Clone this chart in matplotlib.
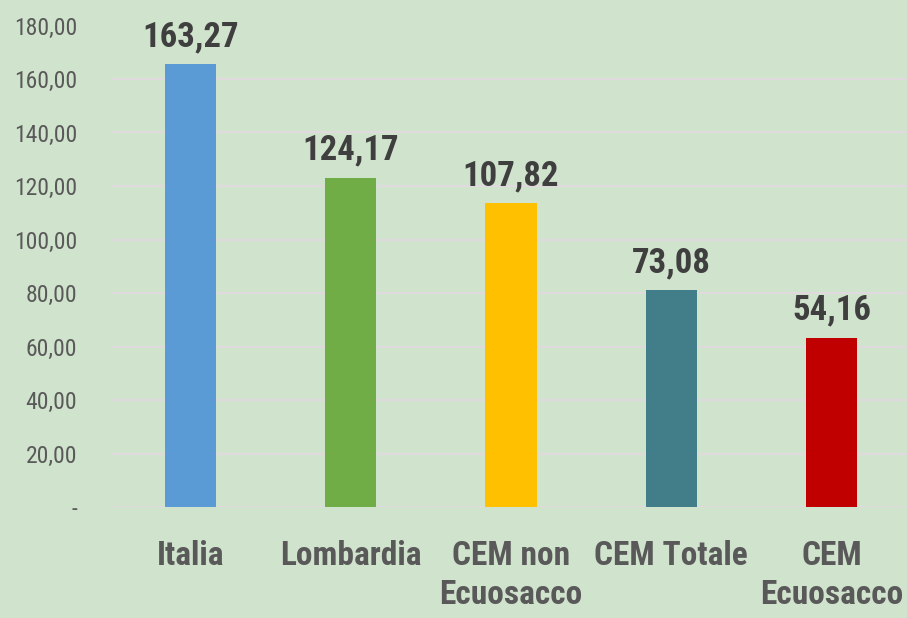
import matplotlib
matplotlib.use("Agg")
import matplotlib.pyplot as plt
from matplotlib import font_manager

names = sorted(set(f.name for f in font_manager.fontManager.ttflist))

categories = ["Italia", "Lombardia", "CEM non\nEcuosacco", "CEM Totale", "CEM\nEcuosacco"]
bar_heights = [165.6, 123.0, 113.6, 81.1, 63.2]
value_labels = ["163,27", "124,17", "107,82", "73,08", "54,16"]
colors = ["#5B9BD5", "#70AD47", "#FFC000", "#417E89", "#C00000"]
yticks = [0, 20, 40, 60, 80, 100, 120, 140, 160, 180]
ytick_labels = ["-", "20,00", "40,00", "60,00", "80,00", "100,00", "120,00", "140,00", "160,00", "180,00"]

narrow = None
for n in ["Roboto Condensed", "Liberation Sans Narrow", "Open Sans Condensed", "DejaVu Sans Condensed"]:
    if n in names:
        narrow = n
        break
fam = [narrow or "Liberation Sans", "DejaVu Sans"]

bg = "#D0E3CC"
fig = plt.figure(figsize=(9.07, 6.18), dpi=100, facecolor=bg)
ax = fig.add_axes([110.5 / 907, 111 / 618, 801 / 907, 481.5 / 618])
ax.set_facecolor(bg)

x = range(len(categories))
ax.bar(x, bar_heights, width=0.32, color=colors, zorder=3)
ax.set_xlim(-0.5, 4.5)
ax.set_ylim(0, 180)

ax.set_yticks(yticks)
ax.set_yticklabels(ytick_labels, family=fam, fontsize=17, color="#595959")
ax.yaxis.grid(True, color="#E2D9DF", linewidth=1.3, zorder=0)
ax.tick_params(axis="y", length=0, pad=24)
ax.set_xticks([])
for s in ax.spines.values():
    s.set_visible(False)

for i, (h, lab) in enumerate(zip(bar_heights, value_labels)):
    ax.annotate(lab, (i, h), xytext=(0, 8), textcoords="offset points",
                ha="center", va="bottom", fontsize=25, fontweight="bold",
                color="#3F3F3F", family=fam, annotation_clip=False)

for i, c in enumerate(categories):
    ax.annotate(c, (i, 0), xytext=(0, -24), textcoords="offset points",
                ha="center", va="top", fontsize=24, fontweight="bold",
                color="#595959", family=fam, linespacing=1.25, annotation_clip=False)

fig.savefig("out.png", dpi=100, facecolor=bg)
